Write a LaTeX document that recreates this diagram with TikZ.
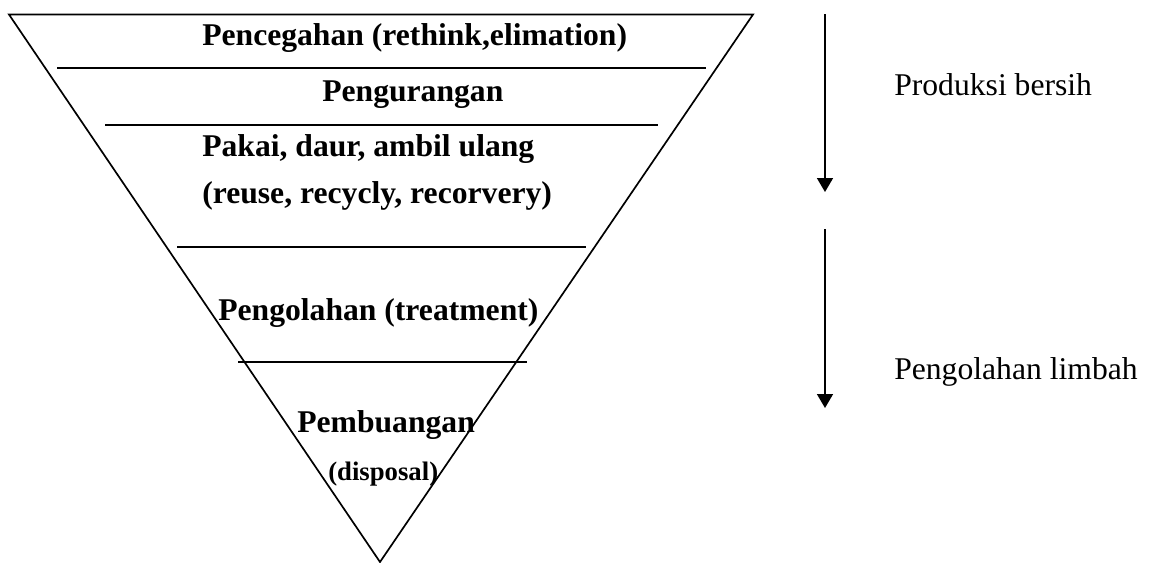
\documentclass[tikz,border=0pt]{standalone}
\usepackage{fontspec}
\setmainfont{Liberation Serif}
\usetikzlibrary{arrows.meta}

\begin{document}
\begin{tikzpicture}[x=0.025cm,y=-0.025cm,
  level/.style={font=\fontsize{22.5}{27}\selectfont\bfseries, anchor=base west, inner sep=0pt},
  side/.style={font=\fontsize{22.5}{27}\selectfont, anchor=base west, inner sep=0pt},
  flow/.style={line width=1.2pt, -{Triangle[length=0.35cm,width=0.4cm]}}]

\useasboundingbox (0,0) rectangle (1152,562);

% Inverted triangle (waste hierarchy)
\coordinate (tl) at (9,14.5);
\coordinate (tr) at (753,14.5);
\coordinate (tip) at (380,562);
\draw[line width=1.2pt] (tl) -- (tr) -- (tip) -- cycle;

% Level dividers
\draw[line width=1.4pt] (57,68) -- (706,68);
\draw[line width=1.4pt] (105,125) -- (658,125);
\draw[line width=1.4pt] (177,247) -- (586,247);
\draw[line width=1.4pt] (238,362) -- (527,362);

% Level labels
\node[level] (cegah) at (202,45) {Pencegahan (rethink,elimation)};
\node[level] (kurang) at (322,101) {Pengurangan};
\node[level] (pakai) at (202,156) {Pakai, daur, ambil ulang};
\node[level] (reuse) at (202,203) {(reuse, recycly, recorvery)};
\node[level] (olah) at (218,320) {Pengolahan (treatment)};
\node[level] (buang) at (297,432) {Pembuangan};
\node[level, font=\fontsize{19}{23}\selectfont\bfseries] (disposal) at (328,480) {(disposal)};

% Side arrows
\coordinate (bersihTop) at (825,14);
\coordinate (bersihEnd) at (825,192);
\coordinate (limbahTop) at (825,229);
\coordinate (limbahEnd) at (825,408);
\draw[flow] (bersihTop) -- (bersihEnd);
\draw[flow] (limbahTop) -- (limbahEnd);

\node[side] (bersih) at (894,95) {Produksi bersih};
\node[side] (limbah) at (894,379) {Pengolahan limbah};

\end{tikzpicture}
\end{document}
